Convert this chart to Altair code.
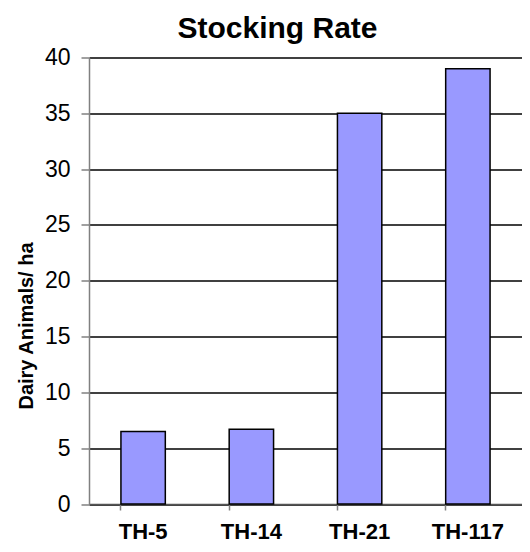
import altair as alt
import pandas as pd

categories = ["TH-5", "TH-14", "TH-21", "TH-117"]
values = [6.5, 6.7, 35, 39]

df = pd.DataFrame({"site": categories, "rate": values})

FONT = "Liberation Sans"

chart = alt.Chart(df).mark_bar(
    color="#9999FF", stroke="black", strokeWidth=1.5
).encode(
    x=alt.X("site:N", sort=categories, title=None,
            scale=alt.Scale(paddingInner=0.59, paddingOuter=0.295),
            axis=alt.Axis(labelAngle=0, labelFont=FONT, labelFontSize=22,
                          labelFontWeight="bold", labelColor="black",
                          labelBaseline="alphabetic",
                          labelPadding=28, bandPosition=0, tickSize=6,
                          tickColor="#808080", tickWidth=1.5,
                          domainColor="#555555", domainWidth=1.5, grid=False)),
    y=alt.Y("rate:Q", title="Dairy Animals/ ha",
            scale=alt.Scale(domain=[0, 40]),
            axis=alt.Axis(values=list(range(0, 41, 5)), labelFont=FONT,
                          labelFontSize=23, labelColor="black", labelPadding=11,
                          tickSize=8, tickColor="#808080", tickWidth=1.5,
                          domainColor="#808080", domainWidth=1.5,
                          grid=True, gridColor="black", gridWidth=1.5,
                          titleFont=FONT, titleFontSize=20, titleFontWeight="bold",
                          titleColor="black", titleAngle=-90, titleAlign="center",
                          titleBaseline="bottom", titleX=-53, titleY=268)),
).properties(
    width=433, height=446.5,
    title=alt.TitleParams("Stocking Rate", font=FONT, fontSize=30,
                          fontWeight="bold", color="black", anchor="middle",
                          frame="group", dx=-28, offset=3),
    autosize=alt.AutoSizeParams(type="none"),
    padding={"left": 81, "top": 49.5, "right": 0, "bottom": 40},
).configure_view(stroke=None)

chart.save("out.html", embed_options={"renderer": "svg", "actions": False})
